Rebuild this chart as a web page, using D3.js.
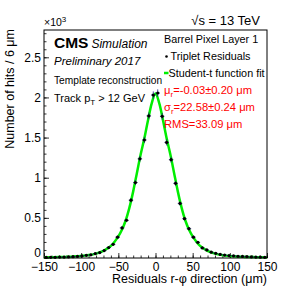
<!DOCTYPE html>
<html lang="en">
<head>
<meta charset="UTF-8">
<title>Barrel Pixel Layer 1 residuals</title>
<script src="https://cdnjs.cloudflare.com/ajax/libs/d3/7.8.5/d3.min.js"></script>
<style>
    body { margin: 0; background: #fff; }
    svg text { font-family: "Liberation Sans", Arial, sans-serif; fill: #000; }
    .red { fill: #ff0000; }
</style>
</head>
<body>
<div id="chart"></div>
<script>
// bin centres (6 um bins) and hit counts
const binCenters = [-147, -141, -135, -129, -123, -117, -111, -105, -99, -93,
    -87, -81, -75, -69, -63, -57, -51, -45, -39, -33,
    -27, -21, -15, -9, -3, 3, 9, 15, 21, 27,
    33, 39, 45, 51, 57, 63, 69, 75, 81, 87,
    93, 99, 105, 111, 117, 123, 129, 135, 141, 147];
const hitCounts = [7, 8, 9, 11, 12, 14, 17, 20, 26, 33,
    40, 55, 68, 92, 130, 170, 260, 375, 470, 720,
    940, 1235, 1470, 1770, 2030, 2055, 1765, 1440, 1225, 930,
    680, 490, 365, 260, 195, 125, 100, 72, 58, 45,
    37, 30, 27, 22, 19, 18, 14, 12, 10, 8];

// Student-t fit curve
const fitX = [-150, -140, -130, -120, -110, -100, -90, -80, -70, -60, -50, -45, -40, -35, -30, -25, -20, -15, -10, -5,
    0, 5, 10, 15, 20, 25, 30, 35, 40, 45, 50, 60, 70, 80, 90, 100, 110, 120, 130, 140, 150];
const fitY = [7, 9, 11, 14, 18, 25, 36, 54, 88, 150, 270, 355, 470, 630, 830, 1060, 1290, 1490, 1720, 1930,
    2050, 1930, 1720, 1490, 1290, 1060, 830, 630, 470, 355, 270, 150, 88, 54, 36, 25, 18, 14, 11, 9, 7];

const xTicks = [-150, -100, -50, 0, 50, 100, 150];
const yTicks = [0, 500, 1000, 1500, 2000, 2500];

const W = 297, H = 288;
const margin = {top: 30, right: 30, bottom: 30, left: 44};
const width = W - margin.left - margin.right;
const height = H - margin.top - margin.bottom;

const svg = d3.select("#chart").append("svg")
    .attr("width", W)
    .attr("height", H);

const g = svg.append("g")
    .attr("transform", `translate(${margin.left},${margin.top})`);

const x = d3.scaleLinear().domain([-150, 150]).range([0, width]);
const y = d3.scaleLinear().domain([0, 2840]).range([height, 0]);

// axes: ROOT style, ticks inside the frame
const xMinor = g.append("g")
    .attr("transform", `translate(0,${height})`)
    .call(d3.axisBottom(x).tickValues(d3.range(-150, 151, 10)).tickSize(-2.5).tickFormat(""));
const xAxis = g.append("g")
    .attr("transform", `translate(0,${height})`)
    .call(d3.axisBottom(x).tickValues(xTicks).tickSize(-5).tickPadding(4));
const yMinor = g.append("g")
    .call(d3.axisLeft(y).tickValues(d3.range(0, 2801, 100)).tickSize(-2.5).tickFormat(""));
const yAxis = g.append("g")
    .call(d3.axisLeft(y).tickValues(yTicks).tickSize(-5).tickPadding(3).tickFormat(d => d / 1000));

[xMinor, xAxis, yMinor, yAxis].forEach(a => {
    a.select(".domain").remove();
    a.selectAll("line").attr("stroke", "#000").attr("stroke-width", 0.8);
    a.selectAll("text").attr("font-size", 12).attr("font-family", "Liberation Sans, Arial, sans-serif");
});
// the "0" label sits a little high so it clears the -150 below it
yAxis.selectAll("text").filter(d => d === 0).attr("dy", "-0.12em");

// fit curve
const line = d3.line()
    .x((d, i) => x(fitX[i]))
    .y(d => y(d))
    .curve(d3.curveCatmullRom);

g.append("path")
    .datum(fitY)
    .attr("d", line)
    .attr("fill", "none")
    .attr("stroke", "#00ee00")
    .attr("stroke-width", 2.5);

// data points with error bars
const pts = g.append("g");
binCenters.forEach((c, i) => {
    const v = hitCounts[i];
    const err = Math.sqrt(v);
    pts.append("line")
        .attr("x1", x(c - 3)).attr("x2", x(c + 3))
        .attr("y1", y(v)).attr("y2", y(v))
        .attr("stroke", "#1a1a80").attr("stroke-width", 0.8);
    pts.append("line")
        .attr("x1", x(c)).attr("x2", x(c))
        .attr("y1", y(v - err)).attr("y2", y(v + err))
        .attr("stroke", "#1a1a80").attr("stroke-width", 0.8);
    pts.append("circle")
        .attr("cx", x(c)).attr("cy", y(v)).attr("r", 1.6)
        .attr("fill", "#000");
});

// frame
g.append("rect")
    .attr("width", width).attr("height", height)
    .attr("fill", "none").attr("stroke", "#000").attr("stroke-width", 1);

// axis titles
svg.append("text")
    .attr("x", margin.left + width).attr("y", 283)
    .attr("text-anchor", "end").attr("font-size", 12.5)
    .text("Residuals r-\u03c6 direction (\u03bcm)");

svg.append("text")
    .attr("transform", "translate(14,29) rotate(-90)")
    .attr("text-anchor", "end").attr("font-size", 12.5)
    .text("Number of hits / 6 \u03bcm");

const exp = svg.append("text").attr("x", 44).attr("y", 26).attr("font-size", 10.5);
exp.append("tspan").text("\u00d710");
exp.append("tspan").attr("dy", -4).attr("font-size", 8).text("3");

svg.append("text")
    .attr("x", 260).attr("y", 25)
    .attr("text-anchor", "end").attr("font-size", 13)
    .text("\u221as = 13 TeV");

// CMS labels
const cms = svg.append("text").attr("x", 54).attr("y", 48);
cms.append("tspan").attr("font-size", 15.5).attr("font-weight", "bold").text("CMS");
cms.append("tspan").attr("font-size", 12).attr("font-style", "italic").attr("dx", 3).text("Simulation");

svg.append("text").attr("x", 54).attr("y", 65)
    .attr("font-size", 11.5).attr("font-style", "italic").text("Preliminary 2017");
svg.append("text").attr("x", 54).attr("y", 84)
    .attr("font-size", 10.2).text("Template reconstruction");
const trk = svg.append("text").attr("x", 54).attr("y", 102).attr("font-size", 11);
trk.append("tspan").text("Track p");
trk.append("tspan").attr("dy", 3).attr("font-size", 8).text("T");
trk.append("tspan").attr("dy", -3).text(" > 12 GeV");

// legend
svg.append("text").attr("x", 164).attr("y", 43).attr("font-size", 10.8).text("Barrel Pixel Layer 1");
svg.append("circle").attr("cx", 166.5).attr("cy", 56.5).attr("r", 1.3).attr("fill", "#000");
svg.append("text").attr("x", 170.5).attr("y", 60).attr("font-size", 10.8).text("Triplet Residuals");
svg.append("line").attr("x1", 164).attr("x2", 168.5).attr("y1", 73).attr("y2", 73)
    .attr("stroke", "#00ee00").attr("stroke-width", 2.5);
svg.append("text").attr("x", 168.5).attr("y", 77).attr("font-size", 10.8).text("Student-t function fit");

function redLine(yPos, sym, rest) {
    const t = svg.append("text").attr("class", "red").attr("x", 164).attr("y", yPos).attr("font-size", 11.2);
    t.append("tspan").text(sym);
    t.append("tspan").attr("dy", 3).attr("font-size", 8).text("r");
    t.append("tspan").attr("dy", -3).text(rest);
}
redLine(93.5, "\u03bc", "=-0.03\u00b10.20 \u03bcm");
redLine(110.5, "\u03c3", "=22.58\u00b10.24 \u03bcm");
svg.append("text").attr("class", "red").attr("x", 164).attr("y", 127.5)
    .attr("font-size", 11.2).text("RMS=33.09 \u03bcm");
</script>
</body>
</html>
